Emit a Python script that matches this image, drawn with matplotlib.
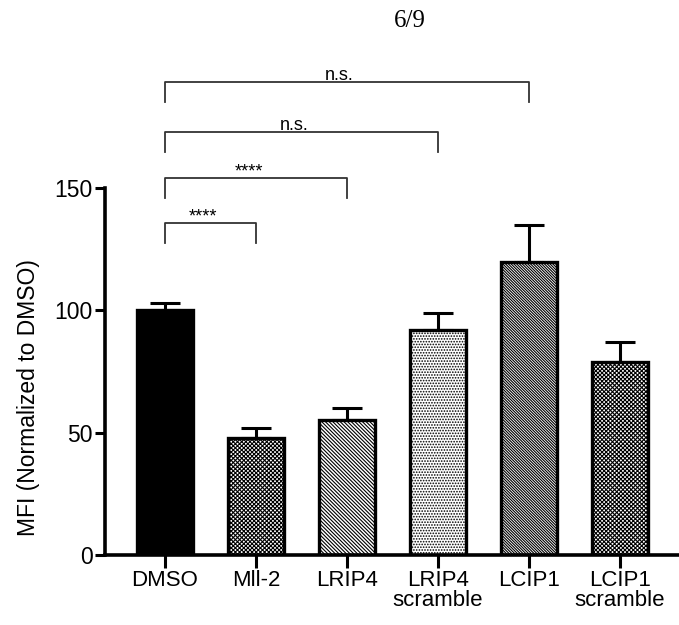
import numpy as np
import matplotlib
matplotlib.use('Agg')
import matplotlib.pyplot as plt

plt.rcParams['font.family'] = ['Liberation Sans', 'DejaVu Sans']
plt.rcParams['hatch.linewidth'] = 0.8

# データ
groups = ['DMSO', 'Mll-2', 'LRIP4', 'LRIP4\nscramble', 'LCIP1', 'LCIP1\nscramble']
mfi = [100, 48, 55, 92, 120, 79]
sem = [3, 4, 5, 7, 15, 8]

# 有意差ブラケット: (比較先のindex, 高さ, ラベル)
comp_target = [1, 2, 3, 4]
comp_level = [135.7, 154.0, 172.9, 193.3]
comp_label = ['****', '****', 'n.s.', 'n.s.']

fig = plt.figure(figsize=(6.79, 6.25), dpi=100)
ax = fig.add_axes([0.1546, 0.112, 0.8454, 0.587])

x = np.arange(len(groups))
colors = ['black', 'white', 'white', 'white', 'white', 'white']
hatches = [None, 'x' * 8, '\\' * 9, '.' * 6, '\\' * 12, 'x' * 8]

for i in range(len(groups)):
    ax.bar(x[i], mfi[i], width=0.62, color=colors[i], edgecolor='black',
           linewidth=2.4, hatch=hatches[i], zorder=2)
    ax.errorbar(x[i], mfi[i], yerr=[[0], [sem[i]]], color='black',
                elinewidth=2.2, capsize=11, capthick=2.2, zorder=1)

# ブラケット
drop = 8
for t, lv, lab in zip(comp_target, comp_level, comp_label):
    ax.plot([x[0], x[0], x[t], x[t]], [lv - drop, lv, lv, lv - drop],
            color='#333333', linewidth=1.3, clip_on=False)
    ax.text((x[0] + x[t]) / 2 - 0.08, lv - 0.8, lab, ha='center', va='bottom',
            fontsize=13, clip_on=False)

ax.set_xlim(-0.659, 5.65)
ax.set_ylim(0, 150)
ax.set_yticks([0, 50, 100, 150])
ax.set_xticks(x)
ax.set_xticklabels(groups, fontsize=16, linespacing=0.9)
ax.tick_params(axis='y', labelsize=16.5, width=2.2, length=7, direction='out', pad=2)
ax.tick_params(axis='x', width=2.2, length=9, direction='out', pad=2)
ax.set_ylabel('MFI (Normalized to DMSO)', fontsize=16.5)
ax.yaxis.set_label_coords(-0.114, 0.428)

for s in ['top', 'right']:
    ax.spines[s].set_visible(False)
ax.spines['left'].set_linewidth(2.6)
ax.spines['bottom'].set_linewidth(2.6)

fig.text(0.604, 0.967, '6/9', ha='center', va='center', fontsize=18,
         family='Liberation Serif')

plt.savefig('out.png', dpi=100)
